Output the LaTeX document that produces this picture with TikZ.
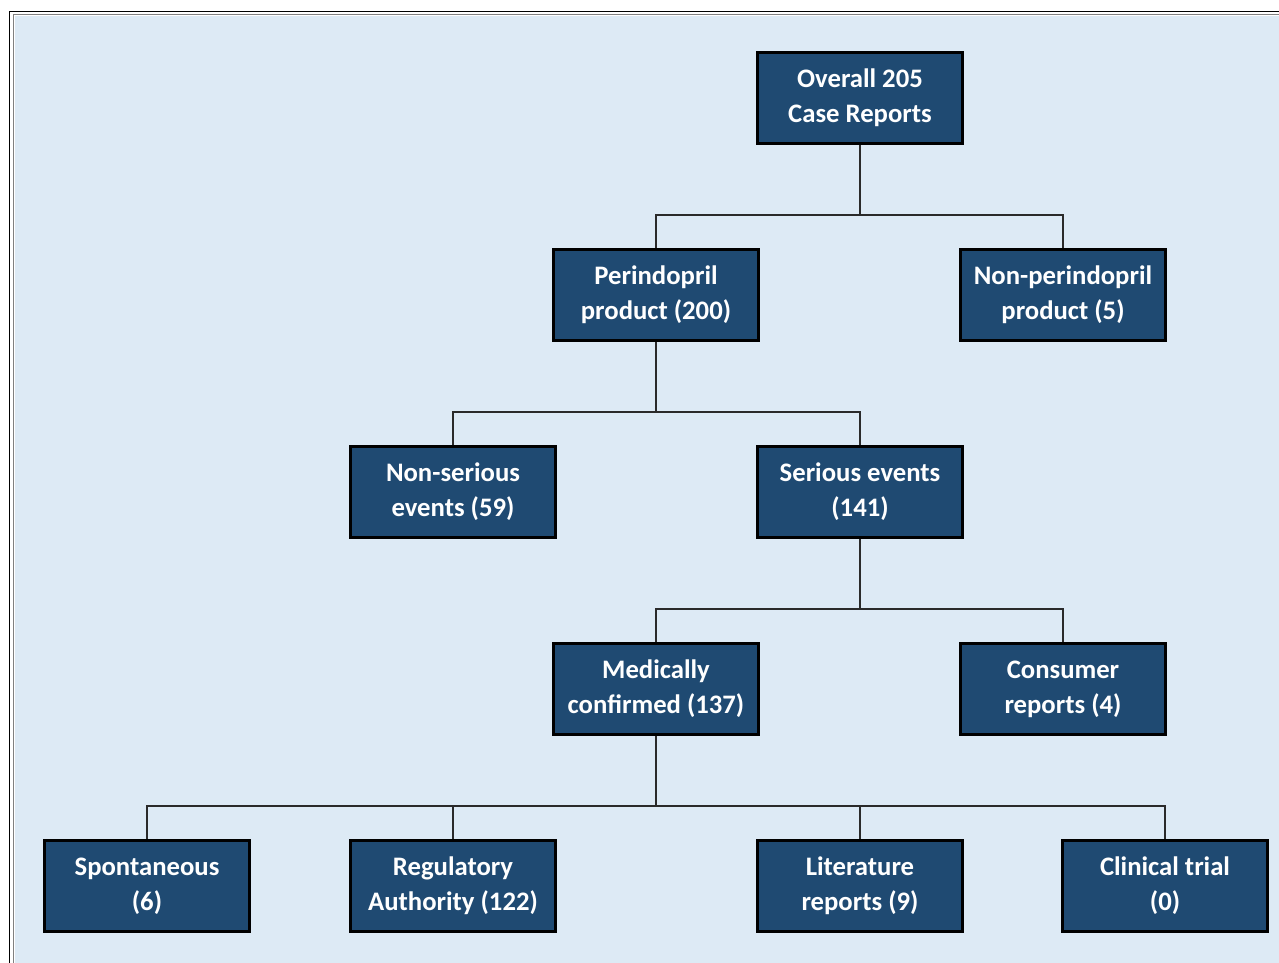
\documentclass[tikz,border=0pt]{standalone}
\usepackage{fontspec}
\setmainfont{Carlito}
\usetikzlibrary{positioning}
\definecolor{panelblue}{HTML}{DDEAF5}
\definecolor{boxblue}{HTML}{1F4A72}
\definecolor{linegray}{HTML}{2A2A2A}

\begin{document}
\begin{tikzpicture}[x=0.02cm,y=-0.02cm]
\tikzstyle{case}=[rectangle, draw=black, line width=1.6pt, fill=boxblue,
text=white, font=\bfseries\fontsize{15.2}{20}\selectfont, align=center,
minimum width=4.1cm, minimum height=1.82cm, inner sep=2pt]
\tikzstyle{link}=[draw=linegray, line width=1.1pt]
\useasboundingbox (0,0) rectangle (1279,963);
% panel
\fill[panelblue] (15,16) rectangle (1279,963);
\draw[black, line width=1.1pt] (9.5,963) -- (9.5,11.5) -- (1279,11.5);
\draw[gray, line width=1.1pt] (13.5,963) -- (13.5,14.5) -- (1279,14.5);

\node[case] at (860,98)	(overall) {Overall 205\\Case Reports};
\node[case] at (656,295) (peri) {Perindopril\\product (200)};
\node[case] at (1063,295) (nonperi) {Non-perindopril\\product (5)};
\node[case] at (453,492) (nonser) {Non-serious\\events (59)};
\node[case] at (860,492) (ser) {Serious events\\(141)};
\node[case] at (656,689) (med) {Medically\\confirmed (137)};
\node[case] at (1063,689) (cons) {Consumer\\reports (4)};
\node[case] at (147,886) (spont) {Spontaneous\\(6)};
\node[case] at (453,886) (reg) {Regulatory\\Authority (122)};
\node[case] at (860,886) (lit) {Literature\\reports (9)};
\node[case] at (1165,886) (clin) {Clinical trial\\(0)};

\draw[link] (overall.south) -- ++(0,70) -| (peri.north);
\draw[link] (overall.south) -- ++(0,70) -| (nonperi.north);
\draw[link] (peri.south) -- ++(0,70) -| (nonser.north);
\draw[link] (peri.south) -- ++(0,70) -| (ser.north);
\draw[link] (ser.south) -- ++(0,70) -| (med.north);
\draw[link] (ser.south) -- ++(0,70) -| (cons.north);
\draw[link] (med.south) -- ++(0,70) -| (spont.north);
\draw[link] (med.south) -- ++(0,70) -| (reg.north);
\draw[link] (med.south) -- ++(0,70) -| (lit.north);
\draw[link] (med.south) -- ++(0,70) -| (clin.north);

\end{tikzpicture}
\end{document}
